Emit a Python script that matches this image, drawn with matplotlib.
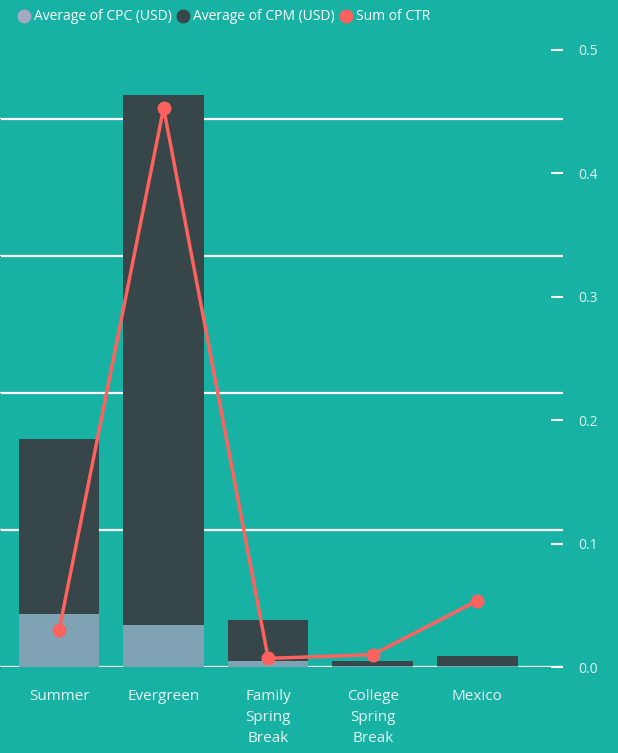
import matplotlib.pyplot as plt
from matplotlib.lines import Line2D
import numpy as np

# data
categories = ["Summer", "Evergreen", "Family\nSpring\nBreak", "College\nSpring\nBreak", "Mexico"]
cpc = [0.39, 0.31, 0.046, 0.005, 0.005]     # Average of CPC (USD), left scale
cpm = [1.27, 3.86, 0.30, 0.041, 0.075]      # Average of CPM (USD), stacked on CPC
ctr = [0.0297, 0.453, 0.007, 0.010, 0.0537]  # Sum of CTR, right scale

bg = "#17b2a3"
dark = "#374649"
light = "#7fa3b5"
red = "#fd625e"
txt = "#e6f4f2"

fig = plt.figure(figsize=(6.18, 7.53), dpi=100, facecolor=bg)
ax = fig.add_axes([0.0, 0.1142, 0.911, 0.8194])
ax.set_facecolor(bg)
x = np.arange(len(categories))

ax.bar(x, cpc, width=0.77, color=light, zorder=2)
ax.bar(x, cpm, width=0.77, bottom=cpc, color=dark, zorder=2)

ax.set_xlim(-0.565, 4.82)
ax.set_ylim(0, 4.5)
ax.set_yticks([0, 1, 2, 3, 4])
ax.yaxis.grid(True, color="white", linewidth=1.6, zorder=1)
ax.set_axisbelow(True)
ax.tick_params(axis="y", left=False, labelleft=False)
ax.set_xticks(x)
ax.set_xticklabels(categories, color=txt, fontsize=11, family="Open Sans", linespacing=1.55)
ax.tick_params(axis="x", length=0, pad=16)
for s in ax.spines.values():
    s.set_visible(False)

ax2 = ax.twinx()
ax2.plot(x, ctr, color=red, linewidth=2.5, marker="o", markersize=9, zorder=5)
ax2.set_ylim(0, 0.5)
ax2.set_yticks([0, 0.1, 0.2, 0.3, 0.4, 0.5])
ax2.set_yticklabels(["0.0", "0.1", "0.2", "0.3", "0.4", "0.5"], color=txt, fontsize=10, family="Open Sans")
ax2.tick_params(axis="y", direction="in", length=9, width=1.5, color="white", pad=11)
for s in ax2.spines.values():
    s.set_visible(False)

handles = [
    Line2D([], [], marker="o", linestyle="", color="#a5a9c6", markersize=9),
    Line2D([], [], marker="o", linestyle="", color=dark, markersize=9),
    Line2D([], [], marker="o", linestyle="", color=red, markersize=9),
]
fig.legend(handles, ["Average of CPC (USD)", "Average of CPM (USD)", "Sum of CTR"],
           loc="upper left", bbox_to_anchor=(0.005, 1.004), ncol=3, frameon=False,
           handletextpad=0.1, columnspacing=0.25, handlelength=1.2,
           prop={"family": "Open Sans", "size": 10}, labelcolor="white")

fig.savefig("out.png", dpi=100, facecolor=bg)
